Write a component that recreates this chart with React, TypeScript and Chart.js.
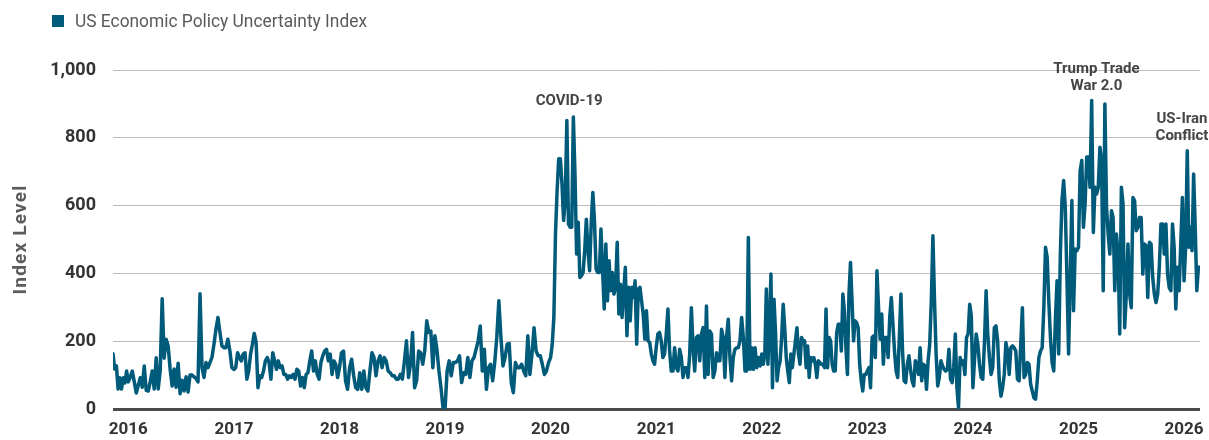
import React, { useEffect, useRef } from 'react';
import { Chart, registerables } from 'chart.js';

Chart.register(...registerables);

// ---------- style constants ----------
const LINE_COLOR = '#005a7a';
const FONT = 'Roboto, "Noto Sans", sans-serif';

// ---------- axis / ticks ----------
const DATA_START = 2015.855; // first weekly observation (late Nov 2015)
const DATA_END = 2026.151; // last weekly observation (late Feb 2026)
const yearTicks = [2016, 2017, 2018, 2019, 2020, 2021, 2022, 2023, 2024, 2025, 2026];
const yTicks = [0, 200, 400, 600, 800, 1000];
const legendLabel = 'US Economic Policy Uncertainty Index';
const yAxisTitle = 'Index Level';

// ---------- weekly index values, one array per year ----------
const epu2015 = [163, 118, 127, 59, 92, 59, 92, 77, 112];
const epu2016 = [80, 95, 112, 80, 47, 70, 92, 64, 127, 55, 53, 80, 112, 59, 151, 59, 112, 325, 150, 206, 186, 118, 68, 118, 64, 135, 45, 85, 53, 95, 50, 100, 100, 95, 90, 80, 340, 122, 93, 137, 122, 137, 152, 191, 235, 270, 226, 186, 181, 181, 206, 171, 122];
const epu2017 = [117, 122, 166, 152, 142, 162, 166, 88, 112, 162, 191, 223, 196, 63, 98, 93, 112, 142, 152, 137, 88, 166, 142, 117, 142, 122, 127, 102, 102, 88, 98, 93, 102, 88, 117, 112, 68, 93, 63, 102, 107, 142, 171, 112, 142, 102, 88, 137, 157, 171, 176, 142, 162, 102, 142, 132, 93];
const epu2018 = [122, 166, 171, 83, 58, 122, 147, 98, 63, 58, 107, 58, 112, 63, 53, 112, 166, 152, 98, 142, 157, 122, 152, 142, 112, 107, 98, 98, 88, 88, 102, 88, 142, 201, 93, 132, 226, 63, 83, 171, 166, 132, 171, 260, 226, 230, 122, 216, 176, 112, 63, 4];
const epu2019 = [0, 112, 142, 98, 137, 137, 142, 157, 78, 107, 102, 152, 93, 142, 152, 176, 201, 245, 112, 176, 58, 122, 132, 83, 137, 211, 319, 211, 127, 152, 191, 193, 78, 48, 137, 122, 122, 132, 112, 98, 216, 102, 162, 240, 171, 157, 157, 132, 102, 112, 137];
const epu2020 = [152, 191, 270, 516, 644, 738, 738, 664, 556, 615, 851, 546, 536, 536, 861, 693, 457, 551, 388, 393, 403, 467, 560, 467, 408, 546, 639, 556, 413, 403, 403, 531, 408, 295, 487, 319, 437, 349, 403, 339, 359, 492, 280, 368, 270, 349, 418, 216, 359, 260, 359, 329, 378, 191, 354, 359, 319, 280, 206, 290, 201, 196, 162, 142, 132];
const epu2021 = [181, 221, 226, 201, 152, 162, 221, 295, 172, 112, 112, 181, 122, 112, 176, 152, 93, 122, 122, 93, 162, 299, 181, 112, 211, 216, 142, 221, 240, 93, 304, 102, 230, 221, 93, 112, 166, 142, 142, 235, 211, 93, 211, 265, 152, 83, 152, 176, 181, 181, 201, 270, 211, 112, 112, 506, 117, 181, 117, 181, 122, 152, 127];
const epu2022 = [162, 132, 162, 354, 132, 240, 398, 63, 324, 226, 83, 122, 142, 211, 309, 240, 152, 112, 78, 162, 122, 162, 201, 240, 162, 132, 211, 201, 201, 122, 186, 93, 152, 142, 152, 132, 93, 142, 137, 132, 132, 122, 295, 122, 211, 201, 132, 112, 112, 226, 250, 250, 171, 339, 290, 181, 102, 339, 432, 319, 201, 260, 255, 240, 132, 83, 53, 102, 102];
const epu2023 = [112, 122, 63, 211, 216, 152, 408, 299, 206, 280, 132, 211, 211, 152, 270, 329, 250, 171, 112, 93, 211, 339, 171, 83, 78, 132, 157, 117, 83, 68, 142, 132, 102, 181, 83, 132, 127, 58, 142, 191, 319, 511, 319, 162, 68, 93, 142, 127, 117, 112, 117, 176, 88, 78, 122, 221, 63, 4, 152, 132, 142, 102, 211, 221, 309, 275];
const epu2024 = [63, 147, 221, 191, 132, 93, 88, 196, 349, 221, 152, 102, 122, 240, 245, 201, 83, 38, 63, 102, 196, 171, 102, 181, 186, 181, 171, 88, 83, 191, 299, 93, 102, 137, 132, 73, 53, 33, 29, 83, 152, 171, 181, 299, 477, 448, 319, 211, 137, 112, 260, 378, 162, 457, 615, 674, 595, 388, 162, 388, 615, 290, 472, 467];
const epu2025 = [477, 703, 733, 536, 605, 743, 743, 654, 910, 521, 654, 634, 654, 772, 733, 349, 900, 595, 516, 457, 585, 565, 349, 516, 457, 221, 654, 605, 240, 339, 487, 339, 299, 624, 615, 526, 536, 565, 565, 398, 487, 482, 329, 492, 487, 388, 339, 314, 339, 418, 546, 546, 457, 546, 398, 358, 349, 546, 477, 295, 418, 349, 487, 624];
const epu2026 = [378, 477, 762, 477, 536, 467, 693, 536, 349, 418, 418];

const yearSegments: [number, number[]][] = [
  [2015, epu2015], [2016, epu2016], [2017, epu2017], [2018, epu2018], [2019, epu2019],
  [2020, epu2020], [2021, epu2021], [2022, epu2022], [2023, epu2023], [2024, epu2024],
  [2025, epu2025], [2026, epu2026],
];

// ---------- annotations (text, anchored in data units) ----------
const annotationTexts = [['COVID-19'], ['Trump Trade', 'War 2.0'], ['US-Iran', 'Conflict']];
const annotationAnchors = [[2020.176, 907], [2025.17, 1003], [2025.98, 856]];

function buildPoints() {
  const pts: { x: number; y: number }[] = [];
  yearSegments.forEach(([year, vals], si) => {
    const isFirst = si === 0;
    const isLast = si === yearSegments.length - 1;
    const start = isFirst ? DATA_START : year;
    const end = isLast ? DATA_END : year + 1;
    const n = vals.length;
    vals.forEach((v, i) => {
      const t = isLast ? i / (n - 1) : i / n;
      pts.push({ x: start + (end - start) * t, y: v });
    });
  });
  return pts;
}

const decorPlugin = {
  id: 'decor',
  afterDraw(chart: any) {
    const ctx: CanvasRenderingContext2D = chart.ctx;
    const xs = chart.scales.x;
    const ys = chart.scales.y;
    const area = chart.chartArea;

    // legend
    ctx.save();
    ctx.fillStyle = LINE_COLOR;
    ctx.fillRect(52, 15, 12, 12);
    ctx.font = `400 19px ${FONT}`;
    ctx.fillStyle = '#5a5a5a';
    ctx.textBaseline = 'middle';
    ctx.textAlign = 'left';
    const w = ctx.measureText(legendLabel).width;
    const sx = 292 / w;
    ctx.translate(75, 22);
    ctx.scale(sx, 1);
    ctx.fillText(legendLabel, 0, 0);
    ctx.restore();

    // y axis title
    ctx.save();
    ctx.font = `700 19px ${FONT}`;
    ctx.fillStyle = '#5c5c5c';
    ctx.textAlign = 'center';
    ctx.textBaseline = 'middle';
    (ctx as any).letterSpacing = '1.2px';
    ctx.translate(21, (area.top + area.bottom) / 2);
    ctx.rotate(-Math.PI / 2);
    ctx.fillText(yAxisTitle, 0, 0);
    ctx.restore();

    // annotations
    ctx.save();
    ctx.font = `700 15px ${FONT}`;
    ctx.fillStyle = '#444444';
    ctx.textAlign = 'center';
    ctx.textBaseline = 'middle';
    annotationTexts.forEach((lines, k) => {
      const [ax, ay] = annotationAnchors[k];
      const px = xs.getPixelForValue(ax);
      const py = ys.getPixelForValue(ay);
      lines.forEach((line, j) => ctx.fillText(line, px, py + j * 17));
    });
    ctx.restore();
  },
};

export default function App() {
  const ref = useRef<HTMLCanvasElement>(null);

  useEffect(() => {
    if (!ref.current) return;
    const chart = new Chart(ref.current, {
      type: 'line',
      data: {
        datasets: [
          {
            label: legendLabel,
            data: buildPoints(),
            borderColor: LINE_COLOR,
            backgroundColor: LINE_COLOR,
            borderWidth: 3.5,
            pointRadius: 0,
            tension: 0,
            borderJoinStyle: 'round',
            borderCapStyle: 'round',
          },
        ],
      },
      options: {
        animation: false,
        responsive: false,
        devicePixelRatio: 1,
        layout: { padding: { top: 70, left: 0, right: 9, bottom: 0 } },
        plugins: {
          legend: { display: false },
          tooltip: { enabled: false },
        },
        scales: {
          x: {
            type: 'linear',
            min: DATA_START,
            max: DATA_END,
            grid: { display: false, drawTicks: false },
            border: { display: false },
            afterBuildTicks: (scale: any) => {
              scale.ticks = yearTicks.map((v) => ({ value: v }));
            },
            afterFit: (scale: any) => {
              scale.height = 31;
              scale.paddingLeft = 0;
              scale.paddingRight = 0;
            },
            ticks: {
              autoSkip: false,
              maxRotation: 0,
              includeBounds: false,
              padding: 11,
              color: '#333333',
              font: { family: FONT, size: 17, weight: 'bold' },
              callback: (v: any) => String(v),
            },
          },
          y: {
            type: 'linear',
            min: 0,
            max: 1000,
            afterBuildTicks: (scale: any) => {
              scale.ticks = yTicks.map((v) => ({ value: v }));
            },
            afterFit: (scale: any) => {
              scale.width = 113;
              scale.paddingTop = 0;
              scale.paddingBottom = 0;
            },
            border: { display: false },
            grid: {
              drawTicks: false,
              color: (c: any) => (c.tick && c.tick.value === 0 ? '#4a4a4a' : '#bcbcbc'),
              lineWidth: (c: any) => (c.tick && c.tick.value === 0 ? 3 : 1),
            },
            ticks: {
              padding: 17,
              color: '#333333',
              font: { family: FONT, size: 18, weight: 'bold' },
              callback: (v: any) => Number(v).toLocaleString('en-US'),
            },
          },
        },
      },
      plugins: [decorPlugin],
    } as any);
    return () => chart.destroy();
  }, []);

  return (
    <div style={{ position: 'absolute', left: 0, top: 0, width: 1209, height: 440, background: '#ffffff' }}>
      <canvas ref={ref} width={1209} height={440} style={{ display: 'block', width: 1209, height: 440 }} />
    </div>
  );
}
